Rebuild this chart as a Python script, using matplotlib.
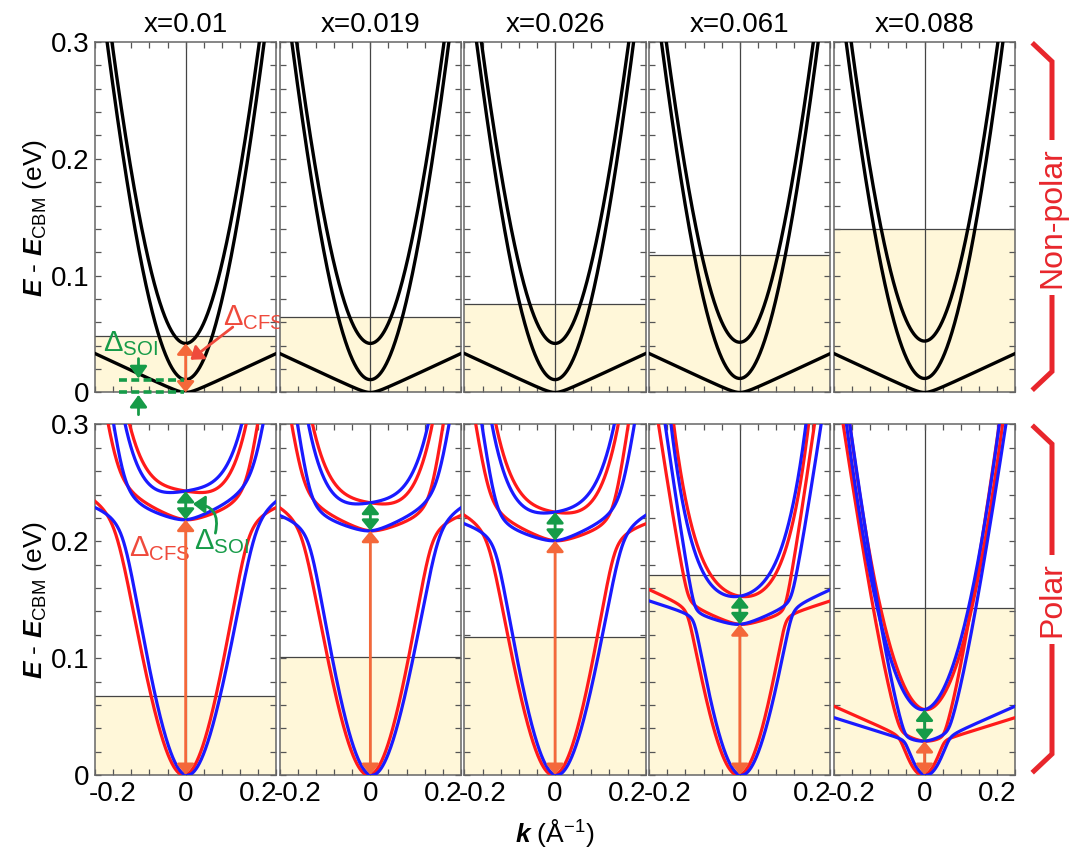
import numpy as np
import matplotlib
matplotlib.use("Agg")
import matplotlib.pyplot as plt
from matplotlib.lines import Line2D
from matplotlib.ticker import MultipleLocator

plt.rcParams.update({
    "font.family": "Liberation Sans",
    "mathtext.fontset": "custom",
    "mathtext.rm": "Liberation Sans",
    "mathtext.it": "Liberation Sans:italic:bold",
    "mathtext.bf": "Liberation Sans:bold",
})

RED, BLUE = "#ff1a1a", "#1a1aff"
ORANGE, GREEN, LRED, BRACE = "#f4683a", "#169b48", "#ef4a3c", "#e8262c"
SHADE = "#fff7d9"

# compositions (column titles)
X_TITLES = ["x=0.01", "x=0.019", "x=0.026", "x=0.061", "x=0.088"]

# Fermi levels (eV)
EF_NONPOLAR = [0.048, 0.065, 0.076, 0.118, 0.140]
EF_POLAR = [0.068, 0.101, 0.118, 0.171, 0.143]

# non-polar: band edges at k=0 (eV)
NP_E_TOP = [0.042, 0.042, 0.042, 0.043, 0.044]
NP_E_MID = [0.011, 0.011, 0.011, 0.012, 0.012]
NP_C = [7.05, 7.05]          # k.p curvature of the two light bands
NP_EG = 2.0
NP_V_HEAVY = 0.145           # slope of the heavy band

# polar: band edges at k=0 (eV) and shape parameters
P_E_H = [0.2185, 0.209, 0.2005, 0.129, 0.029]
P_E_U = [0.243, 0.233, 0.225, 0.153, 0.056]
P_AU = [0.35, 0.5, 0.7, 1.76, 5.5]
P_BU = [72, 72, 68, 72, 0]
P_W = [0.17, 0.15, 0.14, 0.07, 0.08]   # light/heavy coupling
P_CL, P_EGL, P_VH = 9.7, 0.6, 0.12
RASHBA = {"L": 0.09, "H": 0.02, "U": 0.05}

k = np.linspace(-0.25, 0.25, 801)


def kane(k, c, eg):
    return eg / 2 * (-1 + np.sqrt(1 + 4 * c * k**2 / eg))


def heavy(k, v, d):
    return np.sqrt((v * k)**2 + d**2) - d


def polar_bands(i, s):
    L = kane(k, P_CL, P_EGL) + s * RASHBA["L"] * k
    H = P_E_H[i] + heavy(k, P_VH, 0.004) - s * RASHBA["H"] * k
    U = P_E_U[i] + P_AU[i] * k**2 + P_BU[i] * k**4 - s * RASHBA["U"] * k
    V = P_W[i] * k
    m, r = (L + H) / 2, np.sqrt(((L - H) / 2)**2 + V**2)
    return m - r, m + r, U


fig, axes = plt.subplots(2, 5, figsize=(10.72, 8.52), dpi=100,
                         gridspec_kw=dict(left=0.0886, right=0.947, top=0.9507, bottom=0.0904,
                                          wspace=0.0188, hspace=0.0913))

arr2 = dict(arrowstyle="<|-|>,head_length=0.32,head_width=0.26", lw=2.0, mutation_scale=20,
            shrinkA=0, shrinkB=0)
arr1 = dict(arrowstyle="-|>,head_length=0.36,head_width=0.26", lw=2.0, mutation_scale=20,
            shrinkA=0, shrinkB=0)

for r in range(2):
    for i in range(5):
        ax = axes[r, i]
        ef = EF_NONPOLAR[i] if r == 0 else EF_POLAR[i]
        ax.axhspan(0, ef, color=SHADE, lw=0, zorder=0)
        ax.axhline(ef, color="#444", lw=0.9, zorder=1)
        ax.axvline(0, color="#444", lw=0.9, zorder=1)
        ax.set_xlim(-0.25, 0.25); ax.set_ylim(0, 0.3)
        ax.set_xticks([-0.2, 0, 0.2]); ax.set_xticklabels(["-0.2", "0", "0.2"])
        ax.set_yticks([0, 0.1, 0.2, 0.3]); ax.set_yticklabels(["0", "0.1", "0.2", "0.3"])
        ax.xaxis.set_minor_locator(MultipleLocator(0.05))
        ax.yaxis.set_minor_locator(MultipleLocator(0.02))
        ax.tick_params(which="both", direction="in", top=True, right=True, length=4,
                       width=0.9, color="#555", labelsize=20, pad=4,
                       labelbottom=(r == 1), labelleft=(i == 0))
        for sp in ax.spines.values():
            sp.set_color("#666"); sp.set_linewidth(1.1)

        if r == 0:
            ax.set_title(X_TITLES[i], fontsize=20, pad=7)
            ax.plot(k, NP_E_TOP[i] + kane(k, NP_C[0], NP_EG), color="k", lw=2.4, zorder=3)
            ax.plot(k, NP_E_MID[i] + kane(k, NP_C[1], NP_EG), color="k", lw=2.4, zorder=3)
            ax.plot(k, heavy(k, NP_V_HEAVY, 0.003), color="k", lw=2.4, zorder=3)
        else:
            for s, col in ((1, RED), (-1, BLUE)):
                for band in polar_bands(i, s):
                    ax.plot(k, band, color=col, lw=2.3, zorder=3)
            ax.annotate("", xy=(0, P_E_H[i]), xytext=(0, 0),
                        arrowprops=dict(color=ORANGE, **arr2), zorder=5)
            ax.annotate("", xy=(0, P_E_U[i]), xytext=(0, P_E_H[i]),
                        arrowprops=dict(color=GREEN, **arr2), zorder=5)

# annotations, non-polar x=0.01
ax = axes[0, 0]
ax.annotate("", xy=(0, NP_E_TOP[0]), xytext=(0, 0),
            arrowprops=dict(color=ORANGE, **arr2), annotation_clip=False)
ax.text(0.104, 0.058, r"Δ$_{\rm CFS}$", color=LRED, fontsize=21, ha="left", va="baseline")
ax.annotate("", xy=(0.013, 0.028), xytext=(0.13, 0.056),
            arrowprops=dict(color=LRED, **arr1))
ax.text(-0.229, 0.035, r"Δ$_{\rm SOI}$", color=GREEN, fontsize=21, ha="left", va="baseline")
for lev in (NP_E_MID[0], 0):
    ax.plot([-0.185, -0.005], [lev, lev], color=GREEN, lw=2.6, ls=(0, (2.2, 1.2)),
            clip_on=False, zorder=4)
ax.annotate("", xy=(-0.13, NP_E_MID[0] + 0.001), xytext=(-0.13, 0.029),
            arrowprops=dict(color=GREEN, **arr1))
ax.annotate("", xy=(-0.13, -0.002), xytext=(-0.13, -0.019),
            arrowprops=dict(color=GREEN, **arr1), annotation_clip=False)

# annotations, polar x=0.01
ax = axes[1, 0]
ax.text(-0.155, 0.187, r"Δ$_{\rm CFS}$", color=LRED, fontsize=21, ha="left", va="baseline")
ax.text(0.024, 0.193, r"Δ$_{\rm SOI}$", color=GREEN, fontsize=21, ha="left", va="baseline",
        zorder=6)
ax.annotate("", xy=(0.02, 0.232), xytext=(0.082, 0.207),
            arrowprops=dict(color=GREEN, connectionstyle="arc3,rad=0.6", **arr1))

# axis labels
fig.text(35 / 1072, 0.7447, r"$E$ - $E_{\rm CBM}$ (eV)", rotation=90, fontsize=19,
         ha="center", va="center")
fig.text(35 / 1072, 0.2958, r"$E$ - $E_{\rm CBM}$ (eV)", rotation=90, fontsize=19,
         ha="center", va="center")
fig.text(555 / 1072, 1 - 833 / 852, r"$k$ (Å$^{-1}$)", fontsize=19, ha="center", va="center")

# red braces on the right
for r, label in ((0, "Non-polar"), (1, "Polar")):
    b = axes[r, 4].get_position()
    x0, x1 = 1034 / 1072, 1052 / 1072
    dy = 17 / 852
    ya, yb = b.y1 - 2.5 / 852, b.y0 + 4 / 852
    fig.add_artist(Line2D([x0, x1, x1, x0], [ya, ya - dy, yb + dy, yb],
                          color=BRACE, lw=3.6, solid_joinstyle="miter"))
    fig.text(x1, (b.y0 + b.y1) / 2, label, rotation=90, color=BRACE, fontsize=23,
             ha="center", va="center",
             bbox=dict(facecolor="white", edgecolor="none", pad=5))

fig.savefig("out.png", dpi=100)
